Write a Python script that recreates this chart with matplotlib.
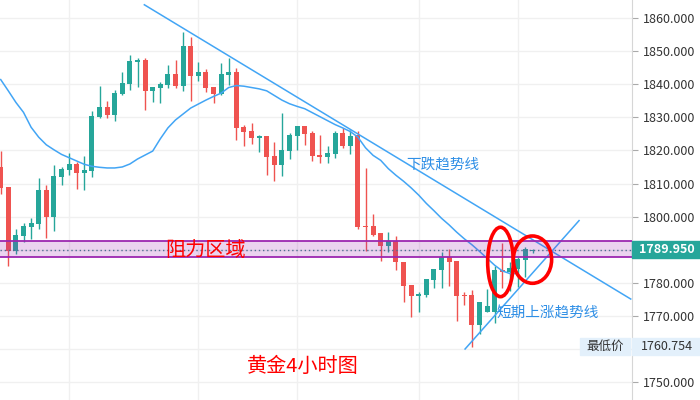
import numpy as np
import matplotlib
matplotlib.use("Agg")
import matplotlib.pyplot as plt
from matplotlib.patches import Ellipse, Rectangle
import matplotlib.transforms as mtransforms

plt.rcParams["font.family"] = ["Noto Sans CJK SC", "DejaVu Sans"]

# -----------------------------
# DATI (candele 4H oro)
# -----------------------------
opens = [1815.1, 1808.9, 1789.7, 1794.2, 1797.0, 1797.8, 1808.0, 1799.9, 1812.0, 1814.1,
         1815.9, 1813.2, 1813.8, 1830.1, 1833.1, 1830.7, 1837.1, 1840.2, 1846.8, 1847.3,
         1838.0, 1839.0, 1839.9, 1843.1, 1839.4, 1851.5, 1842.5, 1843.7, 1839.2, 1837.0,
         1842.8, 1843.7, 1827.1, 1825.9, 1823.8, 1824.4, 1818.3, 1815.6, 1819.8, 1824.4,
         1827.4, 1825.3, 1818.6, 1818.0, 1818.9, 1825.3, 1821.3, 1824.7, 1797.2, 1797.2,
         1795.0, 1791.2, 1792.5, 1786.2, 1779.2, 1776.1, 1776.3, 1781.0, 1784.0, 1787.9,
         1786.7, 1776.3, 1776.3, 1767.3, 1771.3, 1771.3, 1783.8, 1783.4, 1784.1, 1786.9,
         1789.6]
highs = [1819.8, 1809.0, 1796.3, 1798.0, 1799.6, 1811.7, 1809.5, 1815.6, 1815.0, 1819.2,
         1816.6, 1818.3, 1831.9, 1839.4, 1834.9, 1838.2, 1843.7, 1848.8, 1847.9, 1847.9,
         1839.2, 1840.7, 1845.7, 1847.3, 1855.8, 1854.3, 1846.7, 1844.6, 1839.2, 1846.4,
         1847.9, 1844.9, 1827.7, 1828.3, 1824.7, 1824.4, 1822.5, 1831.3, 1825.3, 1827.4,
         1827.4, 1825.9, 1824.7, 1821.3, 1825.9, 1826.8, 1826.2, 1825.9, 1814.7, 1800.9,
         1795.0, 1795.3, 1794.0, 1786.2, 1779.2, 1777.3, 1781.1, 1784.1, 1789.2, 1790.1,
         1786.7, 1777.3, 1777.8, 1774.3, 1778.0, 1785.1, 1791.9, 1786.4, 1787.9, 1790.7,
         1790.1]
lows = [1806.7, 1785.2, 1788.7, 1792.2, 1793.2, 1796.3, 1793.5, 1795.6, 1809.5, 1812.6,
        1808.3, 1808.0, 1812.0, 1829.8, 1829.8, 1828.9, 1836.8, 1838.3, 1839.2, 1832.3,
        1834.7, 1834.4, 1839.0, 1839.0, 1838.0, 1835.0, 1841.0, 1837.7, 1834.4, 1836.7,
        1839.8, 1823.1, 1821.3, 1821.9, 1819.5, 1812.6, 1810.8, 1812.3, 1817.4, 1820.1,
        1821.6, 1816.8, 1816.2, 1816.2, 1817.7, 1820.7, 1818.9, 1796.3, 1789.7, 1794.0,
        1786.7, 1789.4, 1783.9, 1774.3, 1769.8, 1771.3, 1775.8, 1778.5, 1778.5, 1779.1,
        1768.6, 1773.3, 1760.754, 1764.4, 1771.3, 1767.9, 1778.3, 1777.6, 1778.8, 1781.9,
        1789.1]
closes = [1808.7, 1789.7, 1794.4, 1797.2, 1798.1, 1808.0, 1799.9, 1812.3, 1814.4, 1815.9,
          1813.2, 1814.1, 1830.4, 1833.1, 1830.7, 1837.3, 1840.4, 1847.0, 1847.4, 1838.0,
          1839.2, 1840.1, 1843.1, 1839.4, 1851.5, 1842.5, 1843.7, 1839.0, 1837.0, 1843.1,
          1843.7, 1826.8, 1825.6, 1823.8, 1824.4, 1818.0, 1815.6, 1820.1, 1824.7, 1827.4,
          1825.0, 1818.3, 1818.1, 1819.2, 1825.3, 1821.3, 1824.4, 1796.9, 1796.9, 1794.5,
          1791.2, 1792.5, 1786.2, 1779.1, 1776.1, 1776.5, 1781.1, 1784.1, 1787.9, 1786.4,
          1776.1, 1776.0, 1767.3, 1774.3, 1773.0, 1783.9, 1783.4, 1784.4, 1787.1, 1790.1,
          1789.95]

# media mobile
ma = [1841.4, 1838.0, 1834.5, 1831.5, 1827.0, 1824.0, 1821.7, 1820.2, 1818.8, 1817.8,
      1816.8, 1815.8, 1815.2, 1814.9, 1814.7, 1814.7, 1815.0, 1815.9, 1817.4, 1818.6,
      1819.8, 1823.5, 1826.8, 1829.2, 1831.0, 1832.8, 1834.0, 1835.2, 1836.3, 1837.3,
      1839.0, 1839.6, 1839.4, 1839.0, 1838.6, 1838.0, 1836.6, 1835.2, 1834.1, 1833.3,
      1832.6, 1831.4, 1830.2, 1829.0, 1827.8, 1826.8, 1825.7, 1824.0, 1820.8, 1818.5,
      1817.0, 1814.5, 1812.5, 1810.7, 1808.7, 1806.5, 1804.0, 1801.8, 1799.5, 1797.5,
      1795.3, 1793.3, 1791.5, 1789.5, 1787.4, 1785.3, 1783.6, 1782.8, 1782.8]

# linee di tendenza (indice candela, prezzo)
down_x = [18.9, 82.9]
down_y = [1864.0, 1775.1]
up_x = [61.1, 76.1]
up_y = [1760.0, 1798.8]

zona_lo, zona_hi = 1787.9, 1792.6
last_price = 1789.950
min_price = 1760.754
grid_y = list(range(1750, 1861, 10))
ticks = [t for t in grid_y if t not in (1760, 1790)]  # coperti dai box
vgrid = [9, 26, 39, 55, 68]

UP = "#26a69a"
DOWN = "#ef5350"
BLUE = "#42a5f5"

# -----------------------------
# GRAFICO
# -----------------------------
fig = plt.figure(figsize=(7, 4), dpi=100)
ax = fig.add_axes([0, 0, 632 / 700, 1])
ax.set_xlim(-0.7 / 7.6, 631.3 / 7.6)
ax.set_ylim(1744.6, 1865.44)

for t in grid_y:
    ax.axhline(t, color="#f0f0f0", lw=1, zorder=0)
for v in vgrid:
    ax.axvline(v, color="#f0f0f0", lw=1, zorder=0)

x = np.arange(len(opens))
o = np.array(opens)
c = np.array(closes)
col = [UP if cc >= oo else DOWN for oo, cc in zip(o, c)]
ax.vlines(x, lows, highs, colors=col, lw=1, zorder=2)
bottom = np.minimum(o, c)
height = np.maximum(np.abs(c - o), 0.35)
ax.bar(x, height, bottom=bottom, width=0.66, color=col, zorder=3)

ax.plot(np.arange(len(ma)), ma, color=BLUE, lw=1.1, zorder=4)
ax.plot(down_x, down_y, color=BLUE, lw=1.1, zorder=4)
ax.plot(up_x, up_y, color=BLUE, lw=1.1, zorder=4)

# linea ultimo prezzo
ax.axhline(last_price, color="#3d7f8a", lw=1, ls=(0, (1, 2)), zorder=4)

# zona di resistenza
ax.axhspan(zona_lo, zona_hi, color="#9c27b0", alpha=0.2, lw=0, zorder=5)
ax.axhline(zona_lo, color="#9c27b0", lw=1.3, zorder=5)
ax.axhline(zona_hi, color="#9c27b0", lw=1.3, zorder=5)

# cerchi rossi
ax.add_patch(Ellipse((65.76, 1786.3), 3.37, 20.97, fill=False, ec="#ff0000", lw=2.6, zorder=6))
ax.add_patch(Ellipse((69.97, 1787.0), 5.04, 14.29, fill=False, ec="#ff0000", lw=2.6, zorder=6))

# testi
ax.text(27.0, 1789.8, "阻力区域", color="#ff0000", fontsize=14.5, ha="center", va="center", zorder=7)
ax.text(58.2, 1815.8, "下跌趋势线", color="#2f8fe6", fontsize=10.5, ha="center", va="center", zorder=7)
ax.text(72.0, 1770.8, "短期上涨趋势线", color="#2f8fe6", fontsize=10.5, ha="center", va="center", zorder=7)
ax.text(39.8, 1754.7, "黄金4小时图", color="#ff0000", fontsize=14.5, ha="center", va="center", zorder=7)

# asse prezzi a destra
for s in ["top", "left", "bottom"]:
    ax.spines[s].set_visible(False)
ax.spines["right"].set_color("#d6d6d6")
ax.set_xticks([])
ax.yaxis.tick_right()
ax.set_yticks(ticks)
ax.set_yticklabels([f"{t:.3f}" for t in ticks], fontsize=9, color="#333333")
ax.tick_params(axis="y", length=4, color="#aaaaaa", pad=4)

trans = mtransforms.blended_transform_factory(ax.transAxes, ax.transData)
box_w = 68 / 632
box_h = 17 / 3.31

ax.add_patch(Rectangle((1.0, last_price - box_h / 2), box_w, box_h, transform=trans,
                       color=UP, clip_on=False, zorder=8))
ax.text(1.0 + 35 / 632, last_price, f"{last_price:.3f}", transform=trans, color="white",
        fontsize=9, fontweight="bold", ha="center", va="center", clip_on=False, zorder=9)

ax.add_patch(Rectangle((1.0, min_price - box_h / 2), box_w, box_h, transform=trans,
                       color="#e3f0fb", clip_on=False, zorder=8))
ax.text(1.0 + 35 / 632, min_price, f"{min_price:.3f}", transform=trans, color="#333333",
        fontsize=9, ha="center", va="center", clip_on=False, zorder=9)
ax.add_patch(Rectangle((580 / 632, min_price - box_h / 2), 50 / 632, box_h, transform=trans,
                       color="#e3f0fb", clip_on=False, zorder=8))
ax.text(605 / 632, min_price, "最低价", transform=trans, color="#333333",
        fontsize=9, ha="center", va="center", zorder=9)

fig.savefig("out.png", dpi=100)
